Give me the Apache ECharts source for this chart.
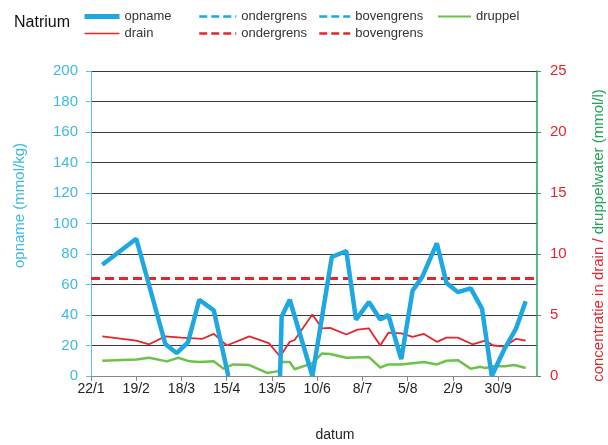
<!DOCTYPE html>
<html>
<head>
<meta charset="utf-8">
<script src="https://cdn.jsdelivr.net/npm/echarts@6/dist/echarts.min.js"></script>
<style>
  html, body { margin: 0; padding: 0; background: #fff; }
  #chart { width: 608px; height: 445px; }
</style>
</head>
<body>
<div id="chart"></div>
<script>
// datums (dag/maand, 2012)
const jaar = 2012;
const startDatum = '22/1';
const asMax = 276;           // dagen na startdatum
const asStap = 28;

const opnameDatum = ['29/1','19/2','8/3','15/3','22/3','29/3','7/4','16/4','1/5','18/5','19/5','24/5','7/6','19/6','28/6','4/7','12/7','19/7','24/7','1/8','8/8','14/8','23/8','29/8','5/9','13/9','20/9','26/9','4/10','11/10','17/10'];
const opname = [73, 90, 21, 15, 22, 50, 43, 0, null, 0, 39, 50, 0, 78, 82, 37, 48.5, 37, 40, 11, 56, 65, 87, 61, 55, 57.5, 44, 0, 18, 31, 49];

const drainDatum = ['29/1','19/2','27/2','8/3','18/3','31/3','7/4','15/4','29/4','11/5','18/5','24/5','27/5','7/6','13/6','18/6','28/6','5/7','12/7','19/7','24/7','1/8','8/8','15/8','23/8','29/8','5/9','14/9','22/9','27/9','4/10','11/10','17/10'];
const drain = [3.25, 2.9, 2.6, 3.25, 3.15, 3.05, 3.45, 2.5, 3.25, 2.7, 1.6, 2.8, 2.95, 5.05, 3.9, 3.95, 3.4, 3.8, 3.9, 2.5, 3.55, 3.5, 3.2, 3.45, 2.8, 3.15, 3.15, 2.6, 2.9, 2.5, 2.4, 3.05, 2.9];

const druppelDatum = ['29/1','19/2','27/2','9/3','16/3','23/3','29/3','7/4','13/4','19/4','29/4','10/5','17/5','19/5','24/5','27/5','7/6','13/6','18/6','28/6','12/7','19/7','24/7','1/8','15/8','23/8','29/8','5/9','13/9','19/9','22/9','27/9','4/10','10/10','17/10'];
const druppel = [1.25, 1.35, 1.5, 1.2, 1.5, 1.2, 1.15, 1.2, 0.6, 0.95, 0.9, 0.25, 0.4, 1.15, 1.15, 0.55, 1.05, 1.85, 1.8, 1.5, 1.55, 0.7, 0.95, 0.95, 1.15, 0.95, 1.25, 1.3, 0.6, 0.75, 0.65, 0.8, 0.8, 0.9, 0.65];

const drainBovengrens = 8;   // mmol/l

const blauw = '#1ea7e1', rood = '#e3262b', groen = '#6cc24a', asGroen = '#22a45a';
const font = "'Liberation Sans', Arial, sans-serif";

function utc(s) { const [d, m] = s.split('/').map(Number); return Date.UTC(jaar, m - 1, d); }
const t0 = utc(startDatum);
const dag = s => Math.round((utc(s) - t0) / 864e5);
const reeks = (datums, vals) => datums.map((s, i) => [dag(s), vals[i]]);
const legendNaam = n => n.split('_')[0];

const ch = echarts.init(document.getElementById('chart'));

// legend: alleen lijntjes, geen bolletjes
const lg = (left, data, w) => ({
    left, top: 5, orient: 'vertical', itemGap: 4, itemWidth: w, itemHeight: 14,
    selectedMode: false, data, formatter: legendNaam,
    itemStyle: { opacity: 0 },
    textStyle: { fontFamily: font, fontSize: 13, color: '#333' }
});
const item = (name, width, type) => ({ name, lineStyle: type ? { width, type } : { width } });

ch.setOption({
    animation: false,
    title: { text: 'Natrium', left: 9, top: 10, textStyle: { fontFamily: font, fontSize: 16, fontWeight: 'normal', color: '#111' } },
    legend: [
        lg(77, [item('opname', 5), item('drain', 1.6)], 35),
        lg(193, [item('ondergrens_o', 2.5, [8, 4]), item('ondergrens_d', 2.5, [8, 4])], 37),
        lg(313, [item('bovengrens_o', 2.5, [8, 4]), item('bovengrens_d', 2.5, [8, 4])], 31),
        lg(432, [item('druppel', 2)], 33)
    ],
    grid: { left: 91, right: 71, top: 71, bottom: 69, outerBoundsMode: 'none' },
    xAxis: {
        type: 'value', min: 0, max: asMax, interval: asStap,
        name: 'datum', nameLocation: 'middle', nameGap: 52,
        nameTextStyle: { fontFamily: font, fontSize: 14, color: '#222', padding: [0, 0, 0, 42] },
        axisLine: { lineStyle: { color: '#888' } },
        axisTick: { length: 5, lineStyle: { color: '#888' } },
        splitLine: { show: false },
        axisLabel: {
            margin: 6, fontFamily: font, fontSize: 14, color: '#222', showMaxLabel: false,
            formatter: v => {
                if (v % asStap) return '';
                const d = new Date(t0 + v * 864e5);
                return d.getUTCDate() + '/' + (d.getUTCMonth() + 1);
            }
        }
    },
    yAxis: [{
        type: 'value', min: 0, max: 200, interval: 20,
        name: 'opname (mmol/kg)', nameLocation: 'middle', nameGap: 64, nameRotate: 90,
        nameTextStyle: { fontFamily: font, fontSize: 15, color: '#3fb8e2', padding: [0, 0, 0, 36] },
        axisLine: { show: true, lineStyle: { color: '#5cc3e8' } },
        axisTick: { show: true, length: 5, lineStyle: { color: '#5cc3e8' } },
        axisLabel: { margin: 13, fontFamily: font, fontSize: 15, color: '#3fb8e2' },
        splitLine: { lineStyle: { color: '#3a3a3a' } }
    }, {
        type: 'value', min: 0, max: 25, interval: 5, position: 'right',
        name: '{r|concentratie in drain / }{g|druppelwater (mmol/l)}',
        nameLocation: 'middle', nameGap: 54, nameRotate: 90,
        nameTextStyle: {
            fontFamily: font, fontSize: 15, padding: [0, 24, 0, 0],
            rich: { r: { color: rood, fontFamily: font, fontSize: 15 }, g: { color: asGroen, fontFamily: font, fontSize: 15 } }
        },
        axisLine: { show: true, lineStyle: { color: asGroen, width: 1.5 } },
        axisTick: { show: true, length: 4, lineStyle: { color: asGroen } },
        axisLabel: { margin: 13, fontFamily: font, fontSize: 15, color: rood },
        splitLine: { show: false }
    }],
    series: [
        { name: 'opname', type: 'line', yAxisIndex: 0, data: reeks(opnameDatum, opname), symbol: 'none',
          connectNulls: false, lineStyle: { color: blauw, width: 4.5 }, itemStyle: { color: blauw }, z: 5 },
        { name: 'drain', type: 'line', yAxisIndex: 1, data: reeks(drainDatum, drain), symbol: 'none',
          lineStyle: { color: rood, width: 1.8 }, itemStyle: { color: rood }, z: 3 },
        { name: 'ondergrens_o', type: 'line', yAxisIndex: 0, data: [], symbol: 'none',
          lineStyle: { color: blauw, width: 2.5, type: [6, 4] }, itemStyle: { color: blauw } },
        { name: 'ondergrens_d', type: 'line', yAxisIndex: 1, data: [], symbol: 'none',
          lineStyle: { color: rood, width: 2.5, type: [6, 4] }, itemStyle: { color: rood } },
        { name: 'bovengrens_o', type: 'line', yAxisIndex: 0, data: [], symbol: 'none',
          lineStyle: { color: blauw, width: 2.5, type: [6, 4] }, itemStyle: { color: blauw } },
        { name: 'bovengrens_d', type: 'line', yAxisIndex: 1, data: [], symbol: 'none',
          lineStyle: { color: rood, width: 2.5, type: [6, 4] }, itemStyle: { color: rood },
          markLine: { silent: true, symbol: 'none', label: { show: false },
              lineStyle: { color: rood, width: 3, type: [9, 5] }, data: [{ yAxis: drainBovengrens }] } },
        { name: 'druppel', type: 'line', yAxisIndex: 1, data: reeks(druppelDatum, druppel), symbol: 'none',
          lineStyle: { color: groen, width: 2.5 }, itemStyle: { color: groen }, z: 2 }
    ]
});
</script>
</body>
</html>
